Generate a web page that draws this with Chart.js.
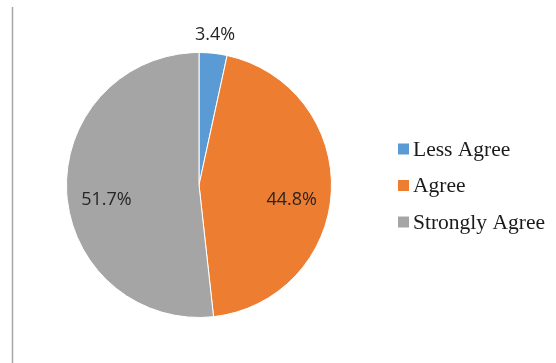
<!DOCTYPE html>
<html>
<head>
<meta charset="utf-8">
<script src="https://cdn.jsdelivr.net/npm/chart.js@4"></script>
<style>
  html, body { margin: 0; padding: 0; background: #fff; }
  #wrap { width: 556px; height: 363px; }
</style>
</head>
<body>
<div id="wrap"><canvas id="agreementChart" width="556" height="363"></canvas></div>
<script>
// Agreement levels
const categories = ['Less Agree', 'Agree', 'Strongly Agree'];
const shares = [3.4, 44.8, 51.7];
const sliceColors = ['#5B9BD5', '#ED7D31', '#A5A5A5'];

// frame edge on the left and percentage labels on the slices
const sliceLabels = {
    id: 'sliceLabels',
    beforeDraw(chart) {
        const ctx = chart.ctx;
        ctx.save();
        ctx.strokeStyle = '#a6a6a6';
        ctx.lineWidth = 1.5;
        ctx.beginPath();
        ctx.moveTo(12.5, 7);
        ctx.lineTo(12.5, 363);
        ctx.stroke();
        ctx.restore();
    },
    afterDatasetsDraw(chart) {
        const ctx = chart.ctx;
        const arcs = chart.getDatasetMeta(0).data;
        ctx.save();
        ctx.font = '18px "Open Sans"';
        ctx.fillStyle = '#262626';
        ctx.textAlign = 'center';
        ctx.textBaseline = 'middle';
        arcs.forEach((arc, i) => {
            const p = arc.getProps(['x', 'y', 'startAngle', 'endAngle', 'outerRadius']);
            const mid = (p.startAngle + p.endAngle) / 2;
            const small = shares[i] < 10;
            const r = small ? p.outerRadius + 18 : p.outerRadius * 0.7;
            const dy = small ? 0 : 10;
            ctx.fillText(shares[i].toFixed(1) + '%', p.x + Math.cos(mid) * r, p.y + Math.sin(mid) * r + dy);
        });
        ctx.restore();
    },
    afterDraw(chart) {
        // legend on the right
        const ctx = chart.ctx;
        ctx.save();
        ctx.font = '21.5px "Liberation Serif"';
        ctx.textBaseline = 'middle';
        categories.forEach((name, i) => {
            const y = 149 + i * 36.5;
            ctx.fillStyle = sliceColors[i];
            ctx.fillRect(398, y - 5.5, 11, 11);
            ctx.fillStyle = '#1a1a1a';
            ctx.fillText(name, 413, y + 1);
        });
        ctx.restore();
    }
};

const ctx = document.getElementById('agreementChart').getContext('2d');
new Chart(ctx, {
    type: 'pie',
    data: {
        labels: categories,
        datasets: [{
            data: shares,
            backgroundColor: sliceColors,
            borderColor: '#ffffff',
            borderWidth: 1
        }]
    },
    options: {
        responsive: false,
        animation: false,
        layout: {
            padding: { left: 66, right: 224, top: 52, bottom: 45 }
        },
        plugins: {
            legend: { display: false },
            tooltip: { enabled: false }
        }
    },
    plugins: [sliceLabels]
});
</script>
</body>
</html>
